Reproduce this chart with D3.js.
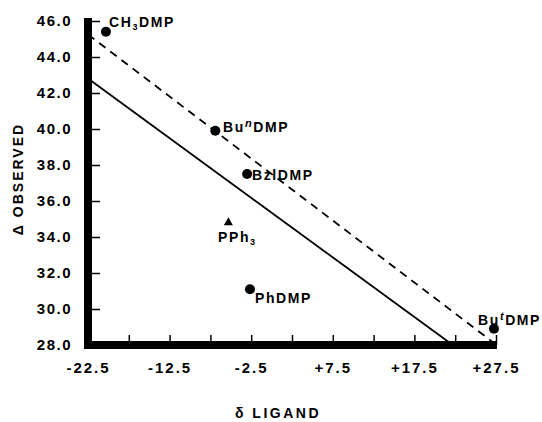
<!DOCTYPE html>
<html>
<head>
<meta charset="utf-8">
<style>
body { margin: 0; background: #fff; }
text { font-family: "Liberation Sans", Arial, sans-serif; font-weight: bold; fill: #000; }
.tick line { stroke: #000; stroke-width: 1.5; }
.tick text { font-size: 15px; letter-spacing: 1.5px; }
</style>
</head>
<body>
<svg width="542" height="422"></svg>
<script src="https://d3js.org/d3.v7.min.js"></script>
<script>
// points
var ligands = ["CH3DMP", "BunDMP", "BzlDMP", "PPh3", "PhDMP", "ButDMP"];
var deltaLigand = [-20.3, -6.9, -3.0, -5.3, -2.65, 27.25];
var deltaObserved = [45.4, 39.9, 37.5, 34.8, 31.1, 28.9];
var markers = ["circle", "circle", "circle", "triangle", "circle", "circle"];

// the two fitted lines (end points)
var solidLine = [[-22.5, 42.8], [22.2, 28.0]];
var dashedLine = [[-22.5, 45.25], [27.0, 28.2]];

var xTicks = [-22.5, -17.5, -12.5, -7.5, -2.5, 2.5, 7.5, 12.5, 17.5, 22.5, 27.5];
var xLabels = { "-22.5": "-22.5", "-12.5": "-12.5", "-2.5": "-2.5", "7.5": "+7.5", "17.5": "+17.5", "27.5": "+27.5" };
var yTicks = [28, 30, 32, 34, 36, 38, 40, 42, 44, 46];

var svg = d3.select("svg");

var x = d3.scaleLinear().domain([-22.5, 27.5]).range([88, 496]);
var y = d3.scaleLinear().domain([28, 46]).range([345, 21]);

// y axis ticks + labels
svg.append("g")
  .attr("transform", "translate(88,0)")
  .call(d3.axisLeft(y).tickValues(yTicks).tickSizeInner(-12).tickSizeOuter(0)
    .tickPadding(16).tickFormat(d3.format(".1f")))
  .call(g => g.select(".domain").remove());

// x axis ticks + labels
svg.append("g")
  .attr("transform", "translate(0,345)")
  .call(d3.axisBottom(x).tickValues(xTicks).tickSizeInner(-10).tickSizeOuter(0)
    .tickPadding(17).tickFormat(d => xLabels[String(d)] || ""))
  .call(g => g.select(".domain").remove())
  .selectAll("text").style("letter-spacing", "2px");

// heavy axis bars
svg.append("rect").attr("x", 84).attr("y", 18).attr("width", 8).attr("height", 331).attr("fill", "#000");
svg.append("rect").attr("x", 84).attr("y", 341).attr("width", 413).attr("height", 8).attr("fill", "#000");

// lines
var line = d3.line().x(d => x(d[0])).y(d => y(d[1]));
svg.append("path").attr("d", line(solidLine))
  .attr("stroke", "#000").attr("stroke-width", 1.8).attr("fill", "none");
svg.append("path").attr("d", line(dashedLine))
  .attr("stroke", "#000").attr("stroke-width", 1.8).attr("fill", "none")
  .attr("stroke-dasharray", "8,6");

// markers
ligands.forEach(function(name, i) {
  var cx = x(deltaLigand[i]), cy = y(deltaObserved[i]);
  if (markers[i] === "circle") {
    svg.append("circle").attr("cx", cx).attr("cy", cy).attr("r", 5).attr("fill", "#000");
  } else {
    svg.append("path").attr("d", d3.symbol(d3.symbolTriangle, 36)())
      .attr("transform", "translate(" + cx + "," + cy + ")").attr("fill", "#000");
  }
});

// point labels
function label(xp, yp, parts) {
  var t = svg.append("text").attr("x", xp).attr("y", yp)
    .style("font-size", "14px").style("letter-spacing", "1.6px");
  parts.forEach(function(p) {
    var s = t.append("tspan").text(p[0]);
    if (p[1] === "sub") s.style("font-size", "9px").attr("dy", 3);
    if (p[1] === "sup") s.style("font-size", "11px").style("font-style", "italic").attr("dy", -5);
    if (p[1] === "reset") s.attr("dy", p[2]);
  });
}
label(109, 27, [["CH"], ["3", "sub"], ["DMP", "reset", -3]]);
label(223, 132, [["Bu"], ["n", "sup"], ["DMP", "reset", 5]]);
label(252, 180, [["BzlDMP"]]);
label(218, 242, [["PPh"], ["3", "sub"]]);
label(255, 303, [["PhDMP"]]);
label(478, 325, [["Bu"], ["t", "sup"], ["DMP", "reset", 5]]);

// axis titles
svg.append("text")
  .attr("transform", "translate(23,179) rotate(-90)")
  .attr("text-anchor", "middle")
  .style("font-size", "14px").style("letter-spacing", "2px")
  .text("\u0394 OBSERVED");

svg.append("text")
  .attr("x", 278).attr("y", 418)
  .attr("text-anchor", "middle")
  .style("font-size", "14px").style("letter-spacing", "2.5px")
  .text("\u03b4 LIGAND");
</script>
</body>
</html>
